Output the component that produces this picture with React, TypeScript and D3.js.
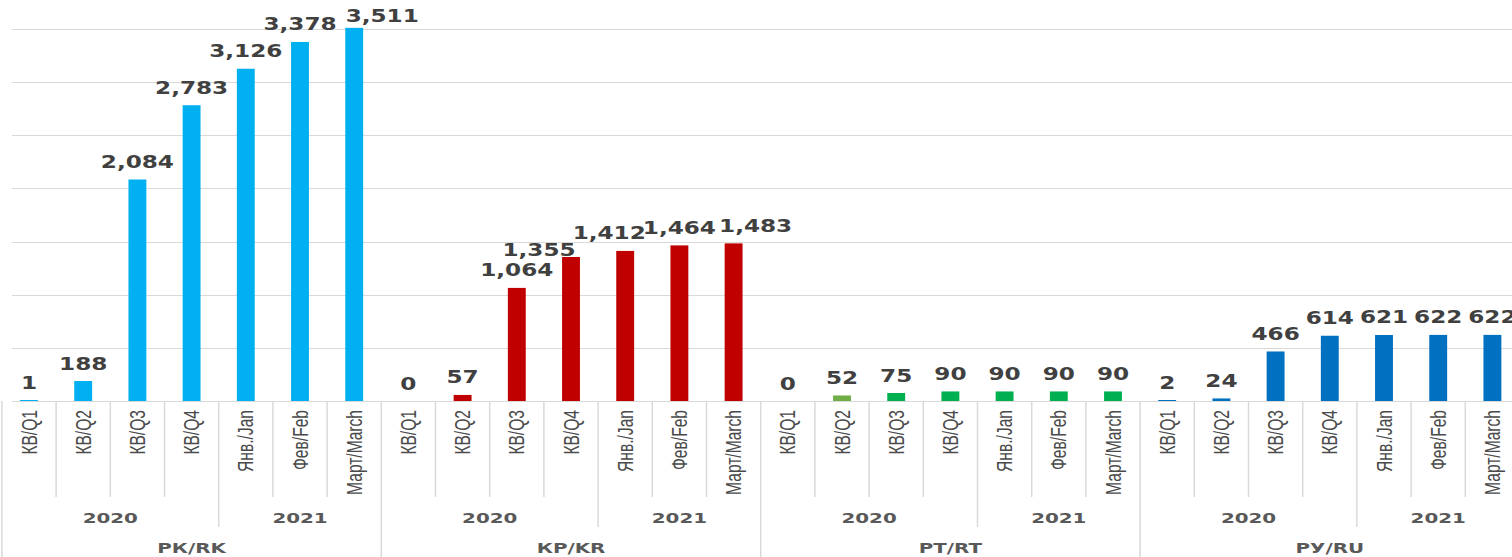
import React, { useRef, useEffect } from "react";
import * as d3 from "d3";

// categories
const groups = ["РК/RK", "КР/KR", "РТ/RT", "РУ/RU"];
const periods = ["КВ/Q1", "КВ/Q2", "КВ/Q3", "КВ/Q4", "Янв./Jan", "Фев/Feb", "Март/March"];
const periodYears = ["2020", "2020", "2020", "2020", "2021", "2021", "2021"];
const years = ["2020", "2021"];

// values per group
const rkValues = [1, 188, 2084, 2783, 3126, 3378, 3511];
const krValues = [0, 57, 1064, 1355, 1412, 1464, 1483];
const rtValues = [0, 52, 75, 90, 90, 90, 90];
const ruValues = [2, 24, 466, 614, 621, 622, 622];
const seriesValues = [rkValues, krValues, rtValues, ruValues];

const groupColors = ["#00B0F0", "#C00000", "#00B050", "#0070C0"];
const colorOverrides = [{ group: "РТ/RT", period: "КВ/Q2", color: "#70AD47" }];

// hand-moved data labels (as in the original)
const labelNudges = [
	{ group: "РК/RK", period: "Март/March", dx: 28, dy: 6 },
	{ group: "КР/KR", period: "КВ/Q4", dx: -32, dy: 11 },
	{ group: "КР/KR", period: "Янв./Jan", dx: -16, dy: 0 },
	{ group: "КР/KR", period: "Март/March", dx: 22, dy: 0 },
];

const App = () => {
	const chartRef = useRef<SVGSVGElement>(null);

	useEffect(() => {
		document.body.style.margin = "0";
		document.body.style.overflow = "hidden";

		const width = 1512;
		const height = 557;
		const baseY = 401;
		const sx = 1.36; // picture is stretched sideways
		const grid = "#d9d9d9";

		const svg = d3.select(chartRef.current).attr("width", width).attr("height", height);
		svg.selectAll("*").remove();

		const keys = groups.flatMap((g) => periods.map((p) => `${g}|${p}`));
		const rows = groups.flatMap((g, gi) =>
			periods.map((p, pi) => ({
				key: `${g}|${p}`,
				group: g,
				period: p,
				value: seriesValues[gi][pi],
				color: colorOverrides.find((o) => o.group === g && o.period === p)?.color ?? groupColors[gi],
				nudge: labelNudges.find((o) => o.group === g && o.period === p) ?? { dx: 0, dy: 0 },
			}))
		);

		const x = d3.scaleBand<string>().domain(keys).range([1.9, 1519.5]).padding(0);
		const y = d3.scaleLinear().domain([0, 3500]).range([baseY, 29]);
		const barW = x.bandwidth() * 0.33;
		const cx = (k: string) => (x(k) ?? 0) + x.bandwidth() / 2;

		// gridlines
		svg.append("g")
			.selectAll("line")
			.data(y.ticks(7))
			.enter()
			.append("line")
			.attr("x1", 12)
			.attr("x2", width)
			.attr("y1", (d) => Math.round(y(d)) + 0.5)
			.attr("y2", (d) => Math.round(y(d)) + 0.5)
			.attr("stroke", grid)
			.attr("stroke-width", 1.2);

		// separators under the axis
		const sep = svg.append("g").attr("stroke", grid).attr("stroke-width", 1.5);
		keys.forEach((k) => {
			const [, p] = k.split("|");
			const xx = x(k) ?? 0;
			let y2 = 497;
			if (p === periods[0]) y2 = height;
			else if (p === periods[4]) y2 = 527;
			sep.append("line").attr("x1", xx).attr("x2", xx).attr("y1", baseY).attr("y2", y2);
		});

		// bars
		svg.append("g")
			.selectAll("rect")
			.data(rows)
			.enter()
			.append("rect")
			.attr("x", (d) => cx(d.key) - barW / 2)
			.attr("width", barW)
			.attr("y", (d) => (d.value > 0 ? Math.min(y(d.value), baseY - 1) : baseY))
			.attr("height", (d) => (d.value > 0 ? Math.max(baseY - y(d.value), 1) : 0))
			.attr("fill", (d) => d.color);

		// value labels
		svg.append("g")
			.selectAll("text")
			.data(rows)
			.enter()
			.append("text")
			.attr("transform", (d) => `translate(${cx(d.key) + d.nudge.dx},${y(d.value) - 11.5 + d.nudge.dy}) scale(${sx},1)`)
			.attr("text-anchor", "middle")
			.attr("font-family", "DejaVu Sans")
			.attr("font-weight", "bold")
			.attr("font-size", 17)
			.attr("fill", "#404040")
			.text((d) => d3.format(",")(d.value));

		// period labels (rotated)
		svg.append("g")
			.selectAll("text")
			.data(rows)
			.enter()
			.append("text")
			.attr("transform", (d) => `translate(${cx(d.key)},410) scale(${sx},1) rotate(-90)`)
			.attr("text-anchor", "end")
			.attr("dy", "0.36em")
			.attr("font-family", "Liberation Sans")
			.attr("font-size", 15.6)
			.attr("fill", "#4a4a4a")
			.text((d) => d.period);

		// year labels
		const yearRows = groups.flatMap((g) =>
			years.map((yr) => {
				const ks = periods.filter((_, i) => periodYears[i] === yr).map((p) => `${g}|${p}`);
				const x0 = x(ks[0]) ?? 0;
				const x1 = (x(ks[ks.length - 1]) ?? 0) + x.bandwidth();
				return { yr, mid: (x0 + x1) / 2 };
			})
		);
		svg.append("g")
			.selectAll("text")
			.data(yearRows)
			.enter()
			.append("text")
			.attr("transform", (d) => `translate(${d.mid},523) scale(${sx},1)`)
			.attr("text-anchor", "middle")
			.attr("font-family", "DejaVu Sans")
			.attr("font-weight", "bold")
			.attr("font-size", 14.6)
			.attr("fill", "#595959")
			.text((d) => d.yr);

		// group labels
		svg.append("g")
			.selectAll("text")
			.data(groups)
			.enter()
			.append("text")
			.attr("transform", (g) => {
				const x0 = x(`${g}|${periods[0]}`) ?? 0;
				const x1 = (x(`${g}|${periods[periods.length - 1]}`) ?? 0) + x.bandwidth();
				return `translate(${(x0 + x1) / 2},553) scale(${sx},1)`;
			})
			.attr("text-anchor", "middle")
			.attr("font-family", "DejaVu Sans")
			.attr("font-weight", "bold")
			.attr("font-size", 14.6)
			.attr("fill", "#595959")
			.text((g) => g);
	}, []);

	return <svg ref={chartRef} style={{ display: "block" }}></svg>;
};

export default App;
